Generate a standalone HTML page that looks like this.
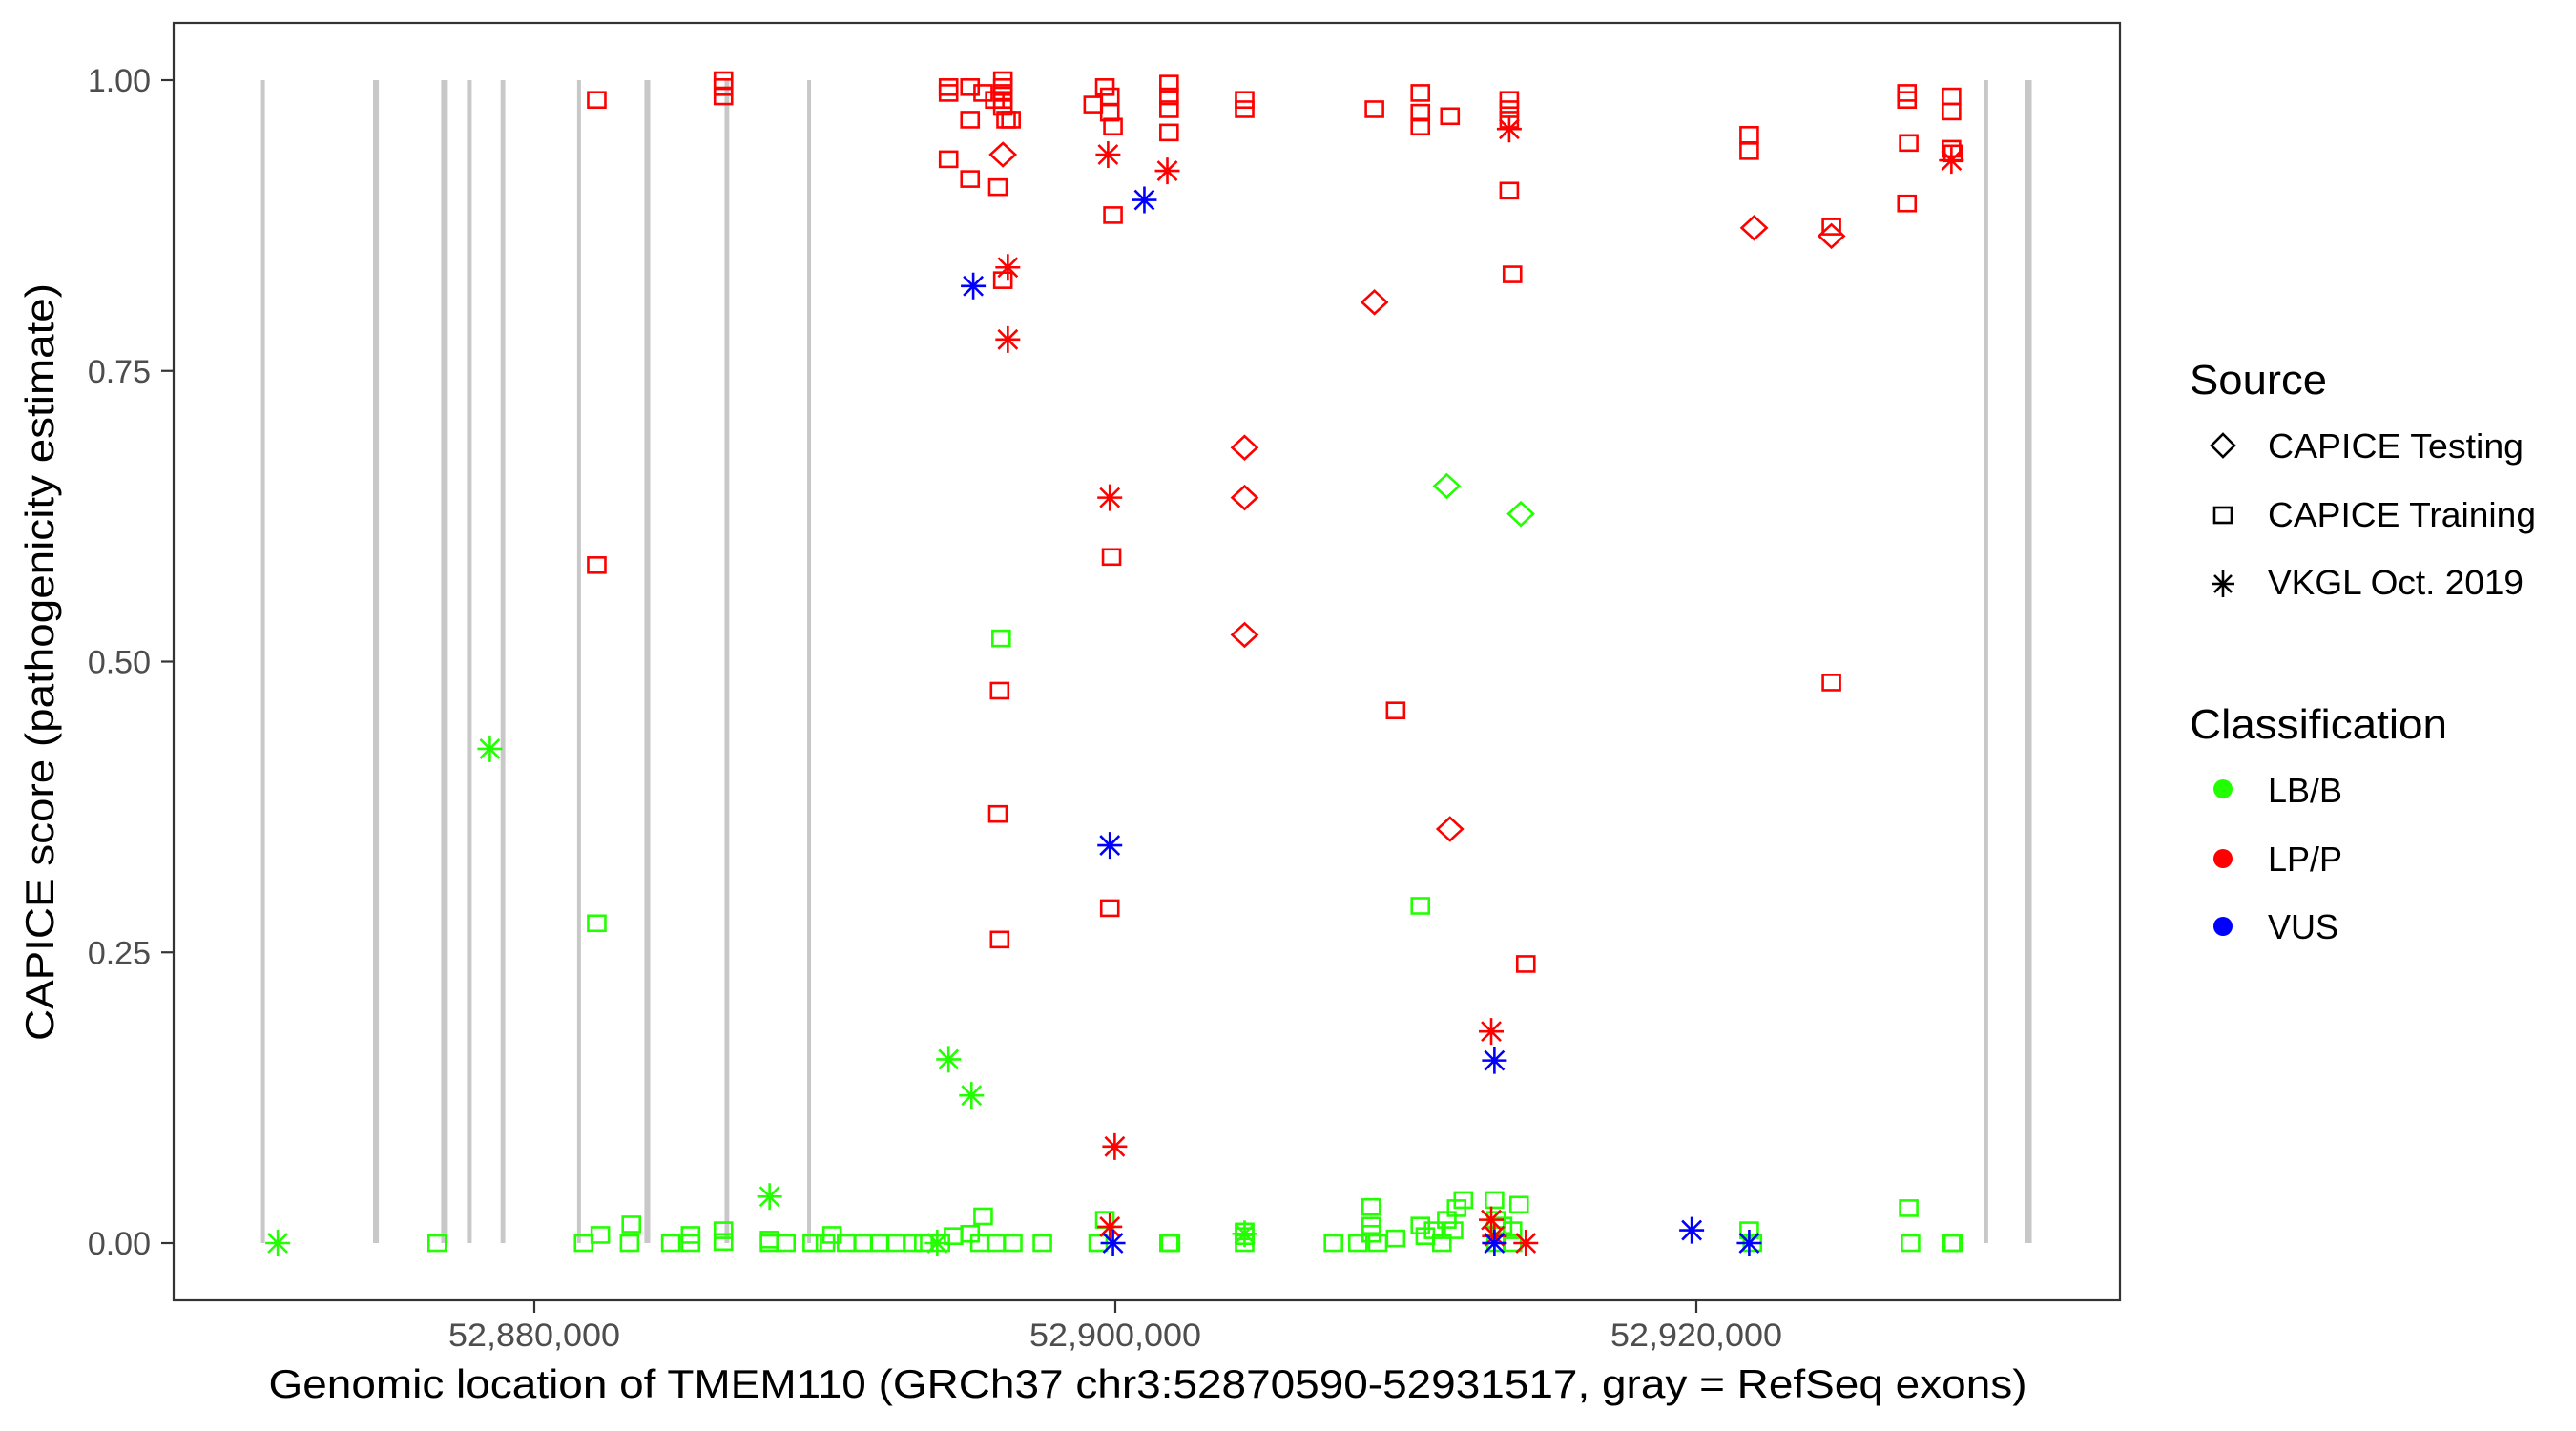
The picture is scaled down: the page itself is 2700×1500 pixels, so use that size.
<!DOCTYPE html>
<html><head><meta charset="utf-8"><title>CAPICE scores TMEM110</title>
<style>html,body{margin:0;padding:0;background:#fff}svg{display:block}text{font-family:"Liberation Sans",Arial,sans-serif}</style>
</head><body>
<svg id="chart" width="2700" height="1500" viewBox="0 0 2700 1500" xmlns="http://www.w3.org/2000/svg">
<rect x="0" y="0" width="2700" height="1500" fill="#fff"/>
<g id="exons"></g>
<g id="points"></g>
<rect x="182" y="24" width="2040" height="1339" fill="none" stroke="#333" stroke-width="2.2"/>
<g id="axes"></g>
<text x="1203" y="1465" text-anchor="middle" font-size="42" textLength="1843" lengthAdjust="spacingAndGlyphs" fill="#000">Genomic location of TMEM110 (GRCh37 chr3:52870590-52931517, gray = RefSeq exons)</text>
<text transform="translate(56,694) rotate(-90)" text-anchor="middle" font-size="42" textLength="794" lengthAdjust="spacingAndGlyphs" fill="#000">CAPICE score (pathogenicity estimate)</text>
<g>
<text x="2295" y="413" font-size="44" textLength="144" lengthAdjust="spacingAndGlyphs">Source</text>
<g>
<polygon points="2330,455 2342,467 2330,479 2318,467" fill="none" stroke="#000" stroke-width="2.6"/>
<text x="2377" y="480" font-size="36" textLength="268" lengthAdjust="spacingAndGlyphs">CAPICE Testing</text></g>
<g>
<rect x="2321" y="532" width="18" height="16" fill="none" stroke="#000" stroke-width="2.6"/>
<text x="2377" y="552" font-size="36" textLength="281" lengthAdjust="spacingAndGlyphs">CAPICE Training</text></g>
<g>
<path d="M2330,598V626M2318,612H2342M2321,603L2339,621M2339,603L2321,621" stroke="#000" stroke-width="2.6"/>
<text x="2377" y="623" font-size="36" textLength="268" lengthAdjust="spacingAndGlyphs">VKGL Oct. 2019</text></g>
</g>
<g>
<text x="2295" y="774" font-size="44" textLength="270" lengthAdjust="spacingAndGlyphs">Classification</text>
<g><circle cx="2330" cy="827" r="10" fill="#22ff00"/><text x="2377" y="841" font-size="36">LB/B</text></g>
<g><circle cx="2330" cy="900" r="10" fill="#ff0000"/><text x="2377" y="913" font-size="36">LP/P</text></g>
<g><circle cx="2330" cy="971" r="10" fill="#0000ff"/><text x="2377" y="984" font-size="36">VUS</text></g>
</g>
</svg>
<script>
// x in kb (genomic position / 1000), y = CAPICE score
const exonPos = [52870.66, 52874.55, 52876.91, 52877.78, 52878.92, 52881.54, 52883.89, 52886.63, 52889.46, 52929.98, 52931.43];
const exonLen = [130, 200, 230, 130, 160, 130, 200, 160, 130, 130, 230];
const xTicks = [52880, 52900, 52920];
const xTickLabels = ["52,880,000", "52,900,000", "52,920,000"];
const yTicks = [0, 0.25, 0.5, 0.75, 1];
const yTickLabels = ["0.00", "0.25", "0.50", "0.75", "1.00"];

const trainLPPos = [52882.15,52882.15,52886.51,52886.51,52886.51,52894.26,52894.26,52895.00,52895.00,52894.26,52895.00,52895.45,52895.85,52895.96,52896.13,52896.13,52896.13,52896.13,52896.13,52896.24,52896.41,52896.13,52896.02,52895.96,52896.02,52899.64,52899.81,52899.81,52899.92,52899.24,52899.92,52899.87,52899.81,52901.85,52901.85,52901.85,52901.85,52904.45,52904.45,52908.92,52910.50,52910.50,52910.50,52911.52,52913.56,52913.56,52913.56,52913.56,52913.67,52909.65,52914.13,52921.82,52921.82,52924.65,52924.65,52927.25,52927.25,52927.31,52927.25,52928.78,52928.78,52928.78,52928.84];
const trainLPScore = [0.983,0.583,1.0,0.994,0.986,0.989,0.994,0.994,0.966,0.932,0.915,0.989,0.983,0.908,1.0,0.994,0.989,0.983,0.977,0.966,0.966,0.828,0.475,0.369,0.261,0.994,0.986,0.972,0.96,0.979,0.884,0.59,0.288,0.997,0.986,0.975,0.955,0.983,0.975,0.975,0.989,0.972,0.96,0.969,0.983,0.975,0.966,0.905,0.833,0.458,0.24,0.953,0.939,0.874,0.482,0.989,0.983,0.946,0.894,0.986,0.973,0.941,0.937];

const testLPPos = [52896.13,52908.92,52904.45,52904.45,52904.45,52911.52,52921.99,52924.65];
const testLPScore = [0.936,0.809,0.684,0.641,0.523,0.356,0.873,0.866];
const testLBPos = [52911.41,52913.96];
const testLBScore = [0.651,0.627];

const vkglLPPos = [52896.30,52896.30,52899.75,52899.81,52899.98,52901.79,52913.56,52912.94,52899.81,52912.94,52913.05,52914.13,52928.78];
const vkglLPScore = [0.839,0.777,0.936,0.641,0.083,0.922,0.958,0.182,0.014,0.02,0.006,0.0,0.931];
const vkglVUSPos = [52895.11,52901.00,52899.81,52913.05,52899.92,52913.05,52919.84,52921.82];
const vkglVUSScore = [0.823,0.897,0.342,0.157,0.0,0.0,0.011,0.0];
const vkglLBPos = [52871.17,52878.47,52888.10,52894.26,52895.05,52904.45,52893.87];
const vkglLBScore = [0.0,0.425,0.04,0.158,0.127,0.008,0.0];

const trainLBPos = [52876.66,52881.70,52882.27,52883.34,52883.28,52884.70,52885.38,52885.38,52886.51,52886.51,52888.10,52888.10,52888.66,52889.57,52890.02,52890.25,52890.75,52891.32,52891.89,52892.45,52893.02,52893.41,52893.98,52894.43,52895.00,52895.45,52895.34,52895.90,52896.47,52896.07,52882.15,52897.49,52899.41,52899.64,52901.85,52901.90,52904.45,52904.45,52904.45,52907.51,52908.35,52908.81,52908.81,52908.81,52909.03,52909.65,52910.50,52910.50,52910.67,52910.96,52911.24,52911.41,52911.64,52911.75,52911.98,52913.05,52913.11,52913.33,52913.67,52913.90,52913.11,52913.67,52921.82,52921.93,52927.31,52927.37,52928.78,52928.84];
const trainLBScore = [0,0,0.007,0.016,0,0,0,0.007,0.011,0.001,0.003,0,0,0,0,0.007,0,0,0,0,0,0,0,0.006,0.008,0.023,0,0,0,0.52,0.275,0,0,0.02,0,0,0,0.006,0.01,0,0,0.031,0.015,0.008,0,0.004,0.29,0.015,0.006,0.011,0,0.02,0.011,0.03,0.037,0.037,0.02,0.015,0.011,0.033,0,0,0.011,0,0.03,0,0,0];

const NS = "http://www.w3.org/2000/svg";
const PX = 30.45; // px per kb
function xs(kb){ return 560 + (kb - 52880) * PX; }
function ys(v){ return 1303 - v * 1219; }
function mk(tag, attrs, parent){ const e = document.createElementNS(NS, tag); for (const k in attrs) e.setAttribute(k, attrs[k]); parent.appendChild(e); return e; }

const exG = document.getElementById('exons');
exonPos.forEach((p, i) => {
  const w = Math.max(4, exonLen[i] / 1000 * PX);
  const r = mk('rect', {x: xs(p) - w/2, y: ys(1), width: w, height: ys(0) - ys(1), fill: '#c8c8c8'}, exG);
  
  
});

const axG = document.getElementById('axes');
xTicks.forEach((t, i) => {
  const X = xs(t);
  const l = mk('line', {x1: X, x2: X, y1: 1363, y2: 1376, stroke: '#333', 'stroke-width': 2.2}, axG);
  
  
  const tx = mk('text', {x: X, y: 1411, 'text-anchor': 'middle', 'font-size': 34, fill: '#4d4d4d', textLength: 180, lengthAdjust: 'spacingAndGlyphs'}, axG);
  tx.textContent = xTickLabels[i];
  
  
});
yTicks.forEach((t, i) => {
  const Y = ys(t);
  const l = mk('line', {x1: 169, x2: 182, y1: Y, y2: Y, stroke: '#333', 'stroke-width': 2.2}, axG);
  
  
  const tx = mk('text', {x: 158, y: Y + 12, 'text-anchor': 'end', 'font-size': 34, fill: '#4d4d4d'}, axG);
  tx.textContent = yTickLabels[i];
  
  
});

const ptG = document.getElementById('points');
function square(x, y, c){ return mk('rect', {x: x-9, y: y-8, width: 18, height: 16, fill: 'none', stroke: c, 'stroke-width': 2.6}, ptG); }
function diamond(x, y, c){ return mk('polygon', {points: `${x},${y-12} ${x+13},${y} ${x},${y+12} ${x-13},${y}`, fill: 'none', stroke: c, 'stroke-width': 2.6}, ptG); }
function star(x, y, c){ return mk('path', {d: `M${x},${y-14}V${y+14}M${x-13},${y}H${x+13}M${x-10},${y-10}L${x+10},${y+10}M${x+10},${y-10}L${x-10},${y+10}`, stroke: c, 'stroke-width': 2.6}, ptG); }
function series(pos, sc, fn, col, name){
  pos.forEach((p, i) => {
    const e = fn(xs(p), ys(sc[i]), col);
    
    
  });
}
const G = '#22ff00', R = '#ff0000', B = '#0000ff';
series(trainLBPos, trainLBScore, square, G, 'training-lbb-point');
series(testLBPos, testLBScore, diamond, G, 'testing-lbb-point');
series(vkglLBPos, vkglLBScore, star, G, 'vkgl-lbb-point');
series(trainLPPos, trainLPScore, square, R, 'training-lpp-point');
series(testLPPos, testLPScore, diamond, R, 'testing-lpp-point');
series(vkglLPPos, vkglLPScore, star, R, 'vkgl-lpp-point');
series(vkglVUSPos, vkglVUSScore, star, B, 'vkgl-vus-point');
</script>
</body></html>
